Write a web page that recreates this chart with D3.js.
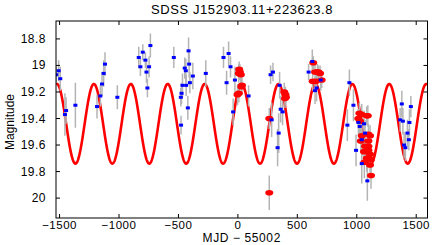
<!DOCTYPE html>
<html><head><meta charset="utf-8">
<script src="https://cdn.jsdelivr.net/npm/d3@7"></script>
<style>html,body{margin:0;padding:0;background:#fff;} svg{display:block;}</style>
</head><body>
<script>
// ---- data ----
const title = "SDSS J152903.11+223623.8";
const xLabel = "MJD \u2212 55002";
const yLabel = "Magnitude";
const xTicks = [-1500, -1000, -500, 0, 500, 1000, 1500];
const yTicks = [18.8, 19, 19.2, 19.4, 19.6, 19.8, 20];
// blue series: [MJD-55002, mag, err]
const blueT = [-1528,-1508,-1494,-1455,-1445,-1367,-1185,-1157,-1143,-1129,-1118,-1014,-834,-820,-800,-778,-769,-761,-747,-736,-539,-480,-474,-466,-478,-447,-438,-435,-421,-415,-410,-404,-379,-270,-121,-95,-78,-62,-40,-25,90,275,295,284,334,343,351,360,376,595,626,649,662,697,938,972,921,1014,1061,1025,1042,1070,994,1042,1089,1379,1455,1365,1388,1443,1426,1438,1398,1409];
const blueMag = [19.07,19.04,19.10,19.37,19.34,19.30,19.31,19.23,19.14,19.06,18.99,19.24,18.94,19.01,18.90,18.96,19.05,19.17,19.01,18.85,18.94,19.24,19.21,19.15,19.45,19.02,19.04,19.15,19.32,18.89,18.99,19.13,19.08,19.06,18.94,19.13,18.91,19.01,19.35,19.11,19.23,19.07,19.05,19.41,19.62,19.51,19.15,19.33,19.35,19.05,18.97,19.19,19.17,19.11,19.13,19.30,19.45,19.43,19.44,19.46,19.56,19.51,19.64,19.74,19.87,19.29,19.31,19.41,19.42,19.43,19.51,19.56,19.60,19.62];
const blueErr = [0.06,0.08,0.09,0.16,0.10,0.17,0.09,0.08,0.09,0.10,0.09,0.09,0.08,0.07,0.06,0.06,0.08,0.07,0.08,0.09,0.08,0.07,0.08,0.09,0.07,0.08,0.09,0.08,0.09,0.10,0.10,0.08,0.10,0.10,0.08,0.09,0.09,0.08,0.10,0.10,0.08,0.07,0.07,0.13,0.14,0.15,0.10,0.10,0.10,0.06,0.09,0.10,0.10,0.08,0.10,0.12,0.12,0.10,0.10,0.10,0.12,0.10,0.12,0.15,0.15,0.10,0.08,0.09,0.10,0.10,0.10,0.08,0.10,0.10];
// red series
const redT = [11,17,8,25,34,29,-3,8,264,264,390,404,396,400,634,649,669,677,691,629,657,705,1022,1042,1013,1084,1093,1028,1042,1098,1112,1034,1098,1070,1098,1061,1098,1112,1084,1118,1064,1112,1120];
const redMag = [19.03,19.05,19.06,19.07,19.15,19.16,19.22,19.21,19.40,19.96,19.20,19.24,19.25,19.22,18.98,19.05,19.05,19.05,19.06,19.12,19.12,19.11,19.36,19.37,19.40,19.38,19.38,19.42,19.53,19.52,19.53,19.57,19.57,19.61,19.61,19.65,19.64,19.67,19.70,19.71,19.73,19.75,19.83];
const redErr = [0.06,0.06,0.07,0.06,0.07,0.06,0.08,0.07,0.08,0.13,0.07,0.06,0.07,0.06,0.05,0.06,0.06,0.05,0.06,0.07,0.06,0.06,0.08,0.08,0.07,0.07,0.08,0.07,0.10,0.08,0.08,0.09,0.08,0.10,0.09,0.10,0.09,0.10,0.10,0.09,0.12,0.10,0.10];
// sinusoidal model parameters
const modelMean = 19.44, modelAmp = 0.30, modelPeriod = 310.6, modelPeak = 31;

// ---- layout ----
const W = 436, H = 245;
const L = 56, R = 427.5, T = 21, B = 218;
const svg = d3.select("body").append("svg").attr("width", W).attr("height", H);
const x = d3.scaleLinear().domain([-1530, 1595]).range([L, R]);
const y = d3.scaleLinear().domain([18.665, 20.15]).range([T, B]);
const font = "'Liberation Sans', Arial, sans-serif";

svg.append("defs").append("clipPath").attr("id","clip")
  .append("rect").attr("x",L).attr("y",T).attr("width",R-L).attr("height",B-T);
const g = svg.append("g").attr("clip-path","url(#clip)");

// model curve
const curveT = d3.range(-1530, 1596, 2);
const line = d3.line().x(d => x(d)).y(d => y(modelMean - modelAmp*Math.cos(2*Math.PI*(d-modelPeak)/modelPeriod)));
g.append("path").datum(curveT).attr("d", line).attr("fill","none").attr("stroke","#ff0000").attr("stroke-width",2.6);

const blue = blueT.map((t,i)=>({t, m: blueMag[i], e: blueErr[i]}));
const red = redT.map((t,i)=>({t, m: redMag[i], e: redErr[i]}));
// error bars
g.selectAll("line.eb").data(blue.concat(red)).enter().append("line")
  .attr("x1", d=>x(d.t)).attr("x2", d=>x(d.t))
  .attr("y1", d=>y(d.m-d.e)).attr("y2", d=>y(d.m+d.e))
  .attr("stroke","#b4b4b4").attr("stroke-width",1.5);
g.selectAll("ellipse.red").data(red).enter().append("ellipse")
  .attr("cx", d=>x(d.t)).attr("cy", d=>y(d.m)).attr("rx",4).attr("ry",2.8).attr("fill","#ff0000");
g.selectAll("rect.blue").data(blue).enter().append("rect")
  .attr("x", d=>x(d.t)-2).attr("y", d=>y(d.m)-1.5).attr("width",4).attr("height",3).attr("fill","#0000ff");

// frame & ticks
svg.append("rect").attr("x",L).attr("y",T).attr("width",R-L).attr("height",B-T)
  .attr("fill","none").attr("stroke","#000").attr("stroke-width",1);
const tk = 4;
xTicks.forEach(v=>{
  svg.append("line").attr("x1",x(v)).attr("x2",x(v)).attr("y1",B).attr("y2",B-tk).attr("stroke","#000");
  svg.append("line").attr("x1",x(v)).attr("x2",x(v)).attr("y1",T).attr("y2",T+tk).attr("stroke","#000");
  svg.append("text").attr("x",x(v)).attr("y",B+11).attr("text-anchor","middle")
    .attr("font-family",font).attr("font-size",11.5).attr("letter-spacing",0.5)
    .text(v<0 ? "\u2212"+Math.abs(v) : String(v));
});
yTicks.forEach(v=>{
  svg.append("line").attr("x1",L).attr("x2",L+tk).attr("y1",y(v)).attr("y2",y(v)).attr("stroke","#000");
  svg.append("line").attr("x1",R).attr("x2",R-tk).attr("y1",y(v)).attr("y2",y(v)).attr("stroke","#000");
  svg.append("text").attr("x",46).attr("y",y(v)+4).attr("text-anchor","end")
    .attr("font-family",font).attr("font-size",12).attr("letter-spacing",0.5)
    .text(String(v));
});
svg.append("text").attr("x",(L+R)/2).attr("y",242).attr("text-anchor","middle")
  .attr("font-family",font).attr("font-size",12).attr("letter-spacing",0.6).text(xLabel);
svg.append("text").attr("transform","translate(14,122) rotate(-90)").attr("text-anchor","middle")
  .attr("font-family",font).attr("font-size",12).text(yLabel);
svg.append("text").attr("x",242).attr("y",14).attr("text-anchor","middle")
  .attr("font-family",font).attr("font-size",13).attr("letter-spacing",0.6).text(title);
</script>
</body></html>
